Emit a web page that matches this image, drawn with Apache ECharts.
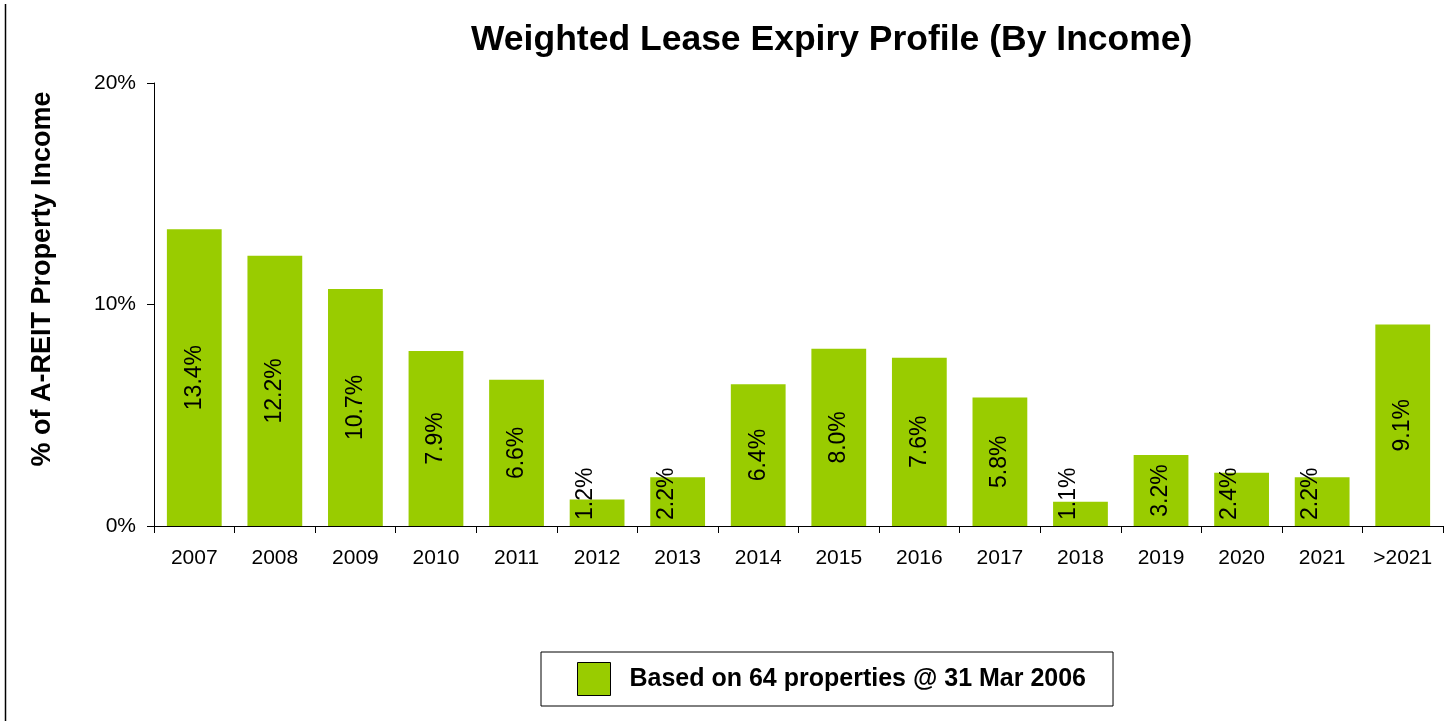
<!DOCTYPE html>
<html lang="en">
<head>
    <meta charset="UTF-8">
    <title>Weighted Lease Expiry Profile</title>
    <script src="https://cdn.jsdelivr.net/npm/echarts@6/dist/echarts.min.js"></script>
    <style>
        html, body { margin: 0; padding: 0; background: #fff; }
        #chart { width: 1453px; height: 721px; }
    </style>
</head>
<body>
<div id="chart"></div>
<script type="text/javascript">
    var years = ['2007', '2008', '2009', '2010', '2011', '2012', '2013', '2014',
        '2015', '2016', '2017', '2018', '2019', '2020', '2021', '>2021'];
    var expiry = [13.4, 12.2, 10.7, 7.9, 6.6, 1.2, 2.2, 6.4, 8.0, 7.6, 5.8, 1.1, 3.2, 2.4, 2.2, 9.1];
    var yTicks = [0, 10, 20];
    var seriesName = 'Based on 64 properties @ 31 Mar 2006';

    var font = '"Liberation Sans", Arial, sans-serif';
    var green = '#99cc00';

    // short bars: label sits on the bottom and runs out of the bar
    var barData = expiry.map(function (v) {
        var item = { value: v };
        if (v < 3) {
            item.label = { position: 'insideBottom', align: 'left', distance: 6 };
        }
        return item;
    });

    var chartDom = document.getElementById('chart');
    var myChart = echarts.init(chartDom);
    var option = {
        animation: false,
        title: {
            text: 'Weighted Lease Expiry Profile (By Income)',
            left: 466,
            top: 17,
            textStyle: { fontFamily: font, fontSize: 35.5, fontWeight: 'bold', color: '#000' }
        },
        grid: { left: 154, right: 10, top: 83, bottom: 195 },
        legend: {
            data: [seriesName],
            left: 541,
            top: 652,
            padding: [10, 27, 10, 36],
            borderColor: '#000',
            borderWidth: 1,
            itemWidth: 33,
            itemHeight: 33,
            itemGap: 0,
            icon: 'rect',
            itemStyle: { borderColor: '#000', borderWidth: 1 },
            textStyle: { fontFamily: font, fontSize: 25, fontWeight: 'bold', color: '#000', padding: [0, 0, 0, 14] }
        },
        xAxis: {
            type: 'category',
            data: years,
            axisLine: { lineStyle: { color: '#000', width: 1 } },
            axisTick: { show: true, length: 7, alignWithLabel: false, lineStyle: { color: '#000' } },
            axisLabel: { fontFamily: font, fontSize: 21, color: '#000', margin: 22 }
        },
        yAxis: {
            type: 'value',
            min: yTicks[0],
            max: yTicks[yTicks.length - 1],
            interval: 10,
            axisLine: { show: true, lineStyle: { color: '#000', width: 1 } },
            axisTick: { show: true, length: 7, lineStyle: { color: '#000' } },
            splitLine: { show: false },
            axisLabel: {
                fontFamily: font, fontSize: 21, color: '#000', margin: 18,
                formatter: '{value}%'
            }
        },
        series: [{
            name: seriesName,
            type: 'bar',
            data: barData,
            barCategoryGap: '32%',
            itemStyle: { color: green },
            label: {
                show: true,
                position: 'inside',
                rotate: 90,
                fontFamily: font,
                fontSize: 23,
                color: '#000',
                formatter: function (p) { return p.value.toFixed(1) + '%'; }
            }
        }],
        graphic: [
            {
                type: 'text',
                x: 43,
                y: 279,
                rotation: Math.PI / 2,
                style: {
                    text: '% of A-REIT Property Income',
                    font: 'bold 27px ' + font,
                    fill: '#000',
                    align: 'center',
                    verticalAlign: 'middle'
                }
            },
            {
                type: 'line',
                shape: { x1: 5.5, y1: 4, x2: 5.5, y2: 721 },
                style: { stroke: '#000', lineWidth: 1.5 }
            }
        ]
    };

    option && myChart.setOption(option);
</script>
</body>
</html>
